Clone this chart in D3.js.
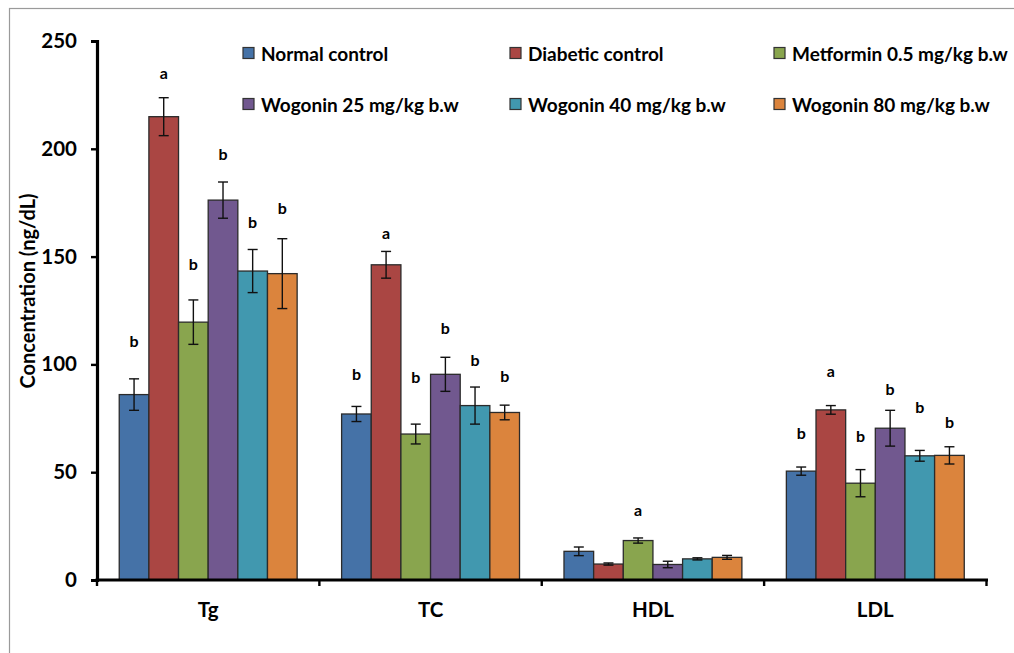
<!DOCTYPE html>
<html>
<head>
<meta charset="utf-8">
<script src="https://cdn.jsdelivr.net/npm/d3@7"></script>
<style>
  html, body { margin: 0; padding: 0; background: #fff; }
  svg { display: block; }
  text { font-family: Lato, "Open Sans", sans-serif; fill: #000; }
</style>
</head>
<body>
<svg id="chart" width="1014" height="653"></svg>
<script>
// Lipid profile by treatment group (mean ± SE)
const categories = ["Tg", "TC", "HDL", "LDL"];
const groups = [
  "Normal control",
  "Diabetic control",
  "Metformin 0.5 mg/kg b.w",
  "Wogonin 25 mg/kg b.w",
  "Wogonin 40 mg/kg b.w",
  "Wogonin 80 mg/kg b.w"
];
const colors = ["#4572A7", "#AA4643", "#89A54E", "#71588F", "#4198AF", "#DB843D"];

// values per group, one entry per category (Tg, TC, HDL, LDL)
const normalControl   = [86.0, 77.0, 13.3, 50.5];
const diabeticControl = [214.9, 146.2, 7.4, 78.9];
const metformin       = [119.6, 67.7, 18.3, 44.9];
const wogonin25       = [176.2, 95.4, 7.2, 70.4];
const wogonin40       = [143.3, 80.9, 9.8, 57.6];
const wogonin80       = [142.1, 77.7, 10.5, 57.8];
const seriesValues = [normalControl, diabeticControl, metformin, wogonin25, wogonin40, wogonin80];

// standard errors
const normalErr   = [7.3, 3.5, 2.0, 1.9];
const diabeticErr = [8.8, 6.2, 0.5, 2.0];
const metforminErr = [10.3, 4.6, 1.2, 6.3];
const wog25Err    = [8.4, 7.9, 1.5, 8.3];
const wog40Err    = [10.0, 8.6, 0.5, 2.5];
const wog80Err    = [16.2, 3.4, 0.9, 4.0];
const seriesErrors = [normalErr, diabeticErr, metforminErr, wog25Err, wog40Err, wog80Err];

// significance letters and the concentration level each is written at ("" = none)
const sigLetters = [
  ["b", "b", "", "b"],
  ["a", "a", "", "a"],
  ["b", "b", "a", "b"],
  ["b", "b", "", "b"],
  ["b", "b", "", "b"],
  ["b", "b", "", "b"]
];
const sigLevels = [
  [110.9, 96.0, 0, 68.6],
  [235.2, 161.0, 0, 97.4],
  [147.0, 94.2, 32.5, 66.8],
  [198.0, 117.3, 0, 88.6],
  [166.5, 102.5, 0, 80.7],
  [173.0, 95.0, 0, 73.3]
];

const yTicks = [0, 50, 100, 150, 200, 250];

const svg = d3.select("#chart");

// outer frame
svg.append("rect")
  .attr("x", 9.5).attr("y", 8.5)
  .attr("width", 1020).attr("height", 660)
  .attr("fill", "none").attr("stroke", "#9a9a9a").attr("stroke-width", 1.2);

const plotLeft = 97, plotRight = 986.5, plotTop = 41, plotBottom = 580;

const y = d3.scaleLinear().domain([0, 250]).range([plotBottom, plotTop]);
const x0 = d3.scaleBand().domain(categories).range([plotLeft, plotRight]).padding(0);
const x1 = d3.scaleBand().domain(d3.range(groups.length))
  .range([0, x0.bandwidth()]).paddingInner(0).paddingOuter(0.75);

const g = svg.append("g");

// bars
categories.forEach((cat, ci) => {
  groups.forEach((grp, si) => {
    const v = seriesValues[si][ci];
    const e = seriesErrors[si][ci];
    const bx = x0(cat) + x1(si);
    const bw = x1.bandwidth();
    g.append("rect")
      .attr("x", bx).attr("y", y(v))
      .attr("width", bw).attr("height", y(0) - y(v))
      .attr("fill", colors[si])
      .attr("stroke", "#2b2b2b").attr("stroke-width", 1.3);

    // error bar
    const cx = bx + bw / 2, cap = 5;
    const eg = g.append("g").attr("stroke", "#111").attr("stroke-width", 1.4);
    eg.append("line").attr("x1", cx).attr("x2", cx).attr("y1", y(v + e)).attr("y2", y(v - e));
    eg.append("line").attr("x1", cx - cap).attr("x2", cx + cap).attr("y1", y(v + e)).attr("y2", y(v + e));
    eg.append("line").attr("x1", cx - cap).attr("x2", cx + cap).attr("y1", y(v - e)).attr("y2", y(v - e));

    const letter = sigLetters[si][ci];
    if (letter) {
      g.append("text")
        .attr("x", cx).attr("y", y(sigLevels[si][ci]))
        .attr("text-anchor", "middle").attr("dominant-baseline", "central")
        .attr("font-size", 16).attr("font-weight", 700)
        .text(letter);
    }
  });
});

// y axis
const yAxis = svg.append("g")
  .attr("transform", `translate(${plotLeft},0)`)
  .call(d3.axisLeft(y).tickValues(yTicks).tickSize(6).tickPadding(14));
yAxis.select(".domain").attr("stroke", "#000").attr("stroke-width", 3.2);
yAxis.selectAll(".tick line").attr("stroke", "#000").attr("stroke-width", 2.4);
yAxis.selectAll(".tick text")
  .attr("font-family", "Lato, sans-serif")
  .attr("font-size", 20.5).attr("font-weight", 700).attr("fill", "#000");

// x axis: ticks at the category boundaries, labels at the centres
const boundaries = categories.map(c => x0(c)).concat([plotRight]);
const xAxisG = svg.append("g");
xAxisG.append("line")
  .attr("x1", plotLeft - 1.5).attr("x2", plotRight + 1.5)
  .attr("y1", plotBottom).attr("y2", plotBottom)
  .attr("stroke", "#000").attr("stroke-width", 3.2);
xAxisG.selectAll("line.tk").data(boundaries).join("line")
  .attr("class", "tk")
  .attr("x1", d => d).attr("x2", d => d)
  .attr("y1", plotBottom).attr("y2", plotBottom + 6)
  .attr("stroke", "#000").attr("stroke-width", 2.4);
xAxisG.selectAll("text").data(categories).join("text")
  .attr("x", d => x0(d) + x0.bandwidth() / 2)
  .attr("y", 609)
  .attr("text-anchor", "middle").attr("dominant-baseline", "central")
  .attr("font-size", 20.5).attr("font-weight", 700)
  .text(d => d);

// y axis title
svg.append("text")
  .attr("transform", "translate(27,291) rotate(-90)")
  .attr("text-anchor", "middle").attr("dominant-baseline", "central")
  .attr("font-size", 20).attr("font-weight", 700)
  .text("Concentration (ng/dL)");

// legend, three columns by two rows
const legendCols = [243, 510, 774];
const legendRows = [53, 104];
const legend = svg.append("g");
groups.forEach((grp, i) => {
  const lx = legendCols[i % 3], ly = legendRows[Math.floor(i / 3)];
  legend.append("rect")
    .attr("x", lx).attr("y", ly - 5.5)
    .attr("width", 11).attr("height", 11)
    .attr("fill", colors[i]).attr("stroke", "#333").attr("stroke-width", 1.2);
  legend.append("text")
    .attr("x", lx + 18).attr("y", ly)
    .attr("dominant-baseline", "central")
    .attr("font-size", 19).attr("font-weight", 700)
    .text(grp);
});
</script>
</body>
</html>
